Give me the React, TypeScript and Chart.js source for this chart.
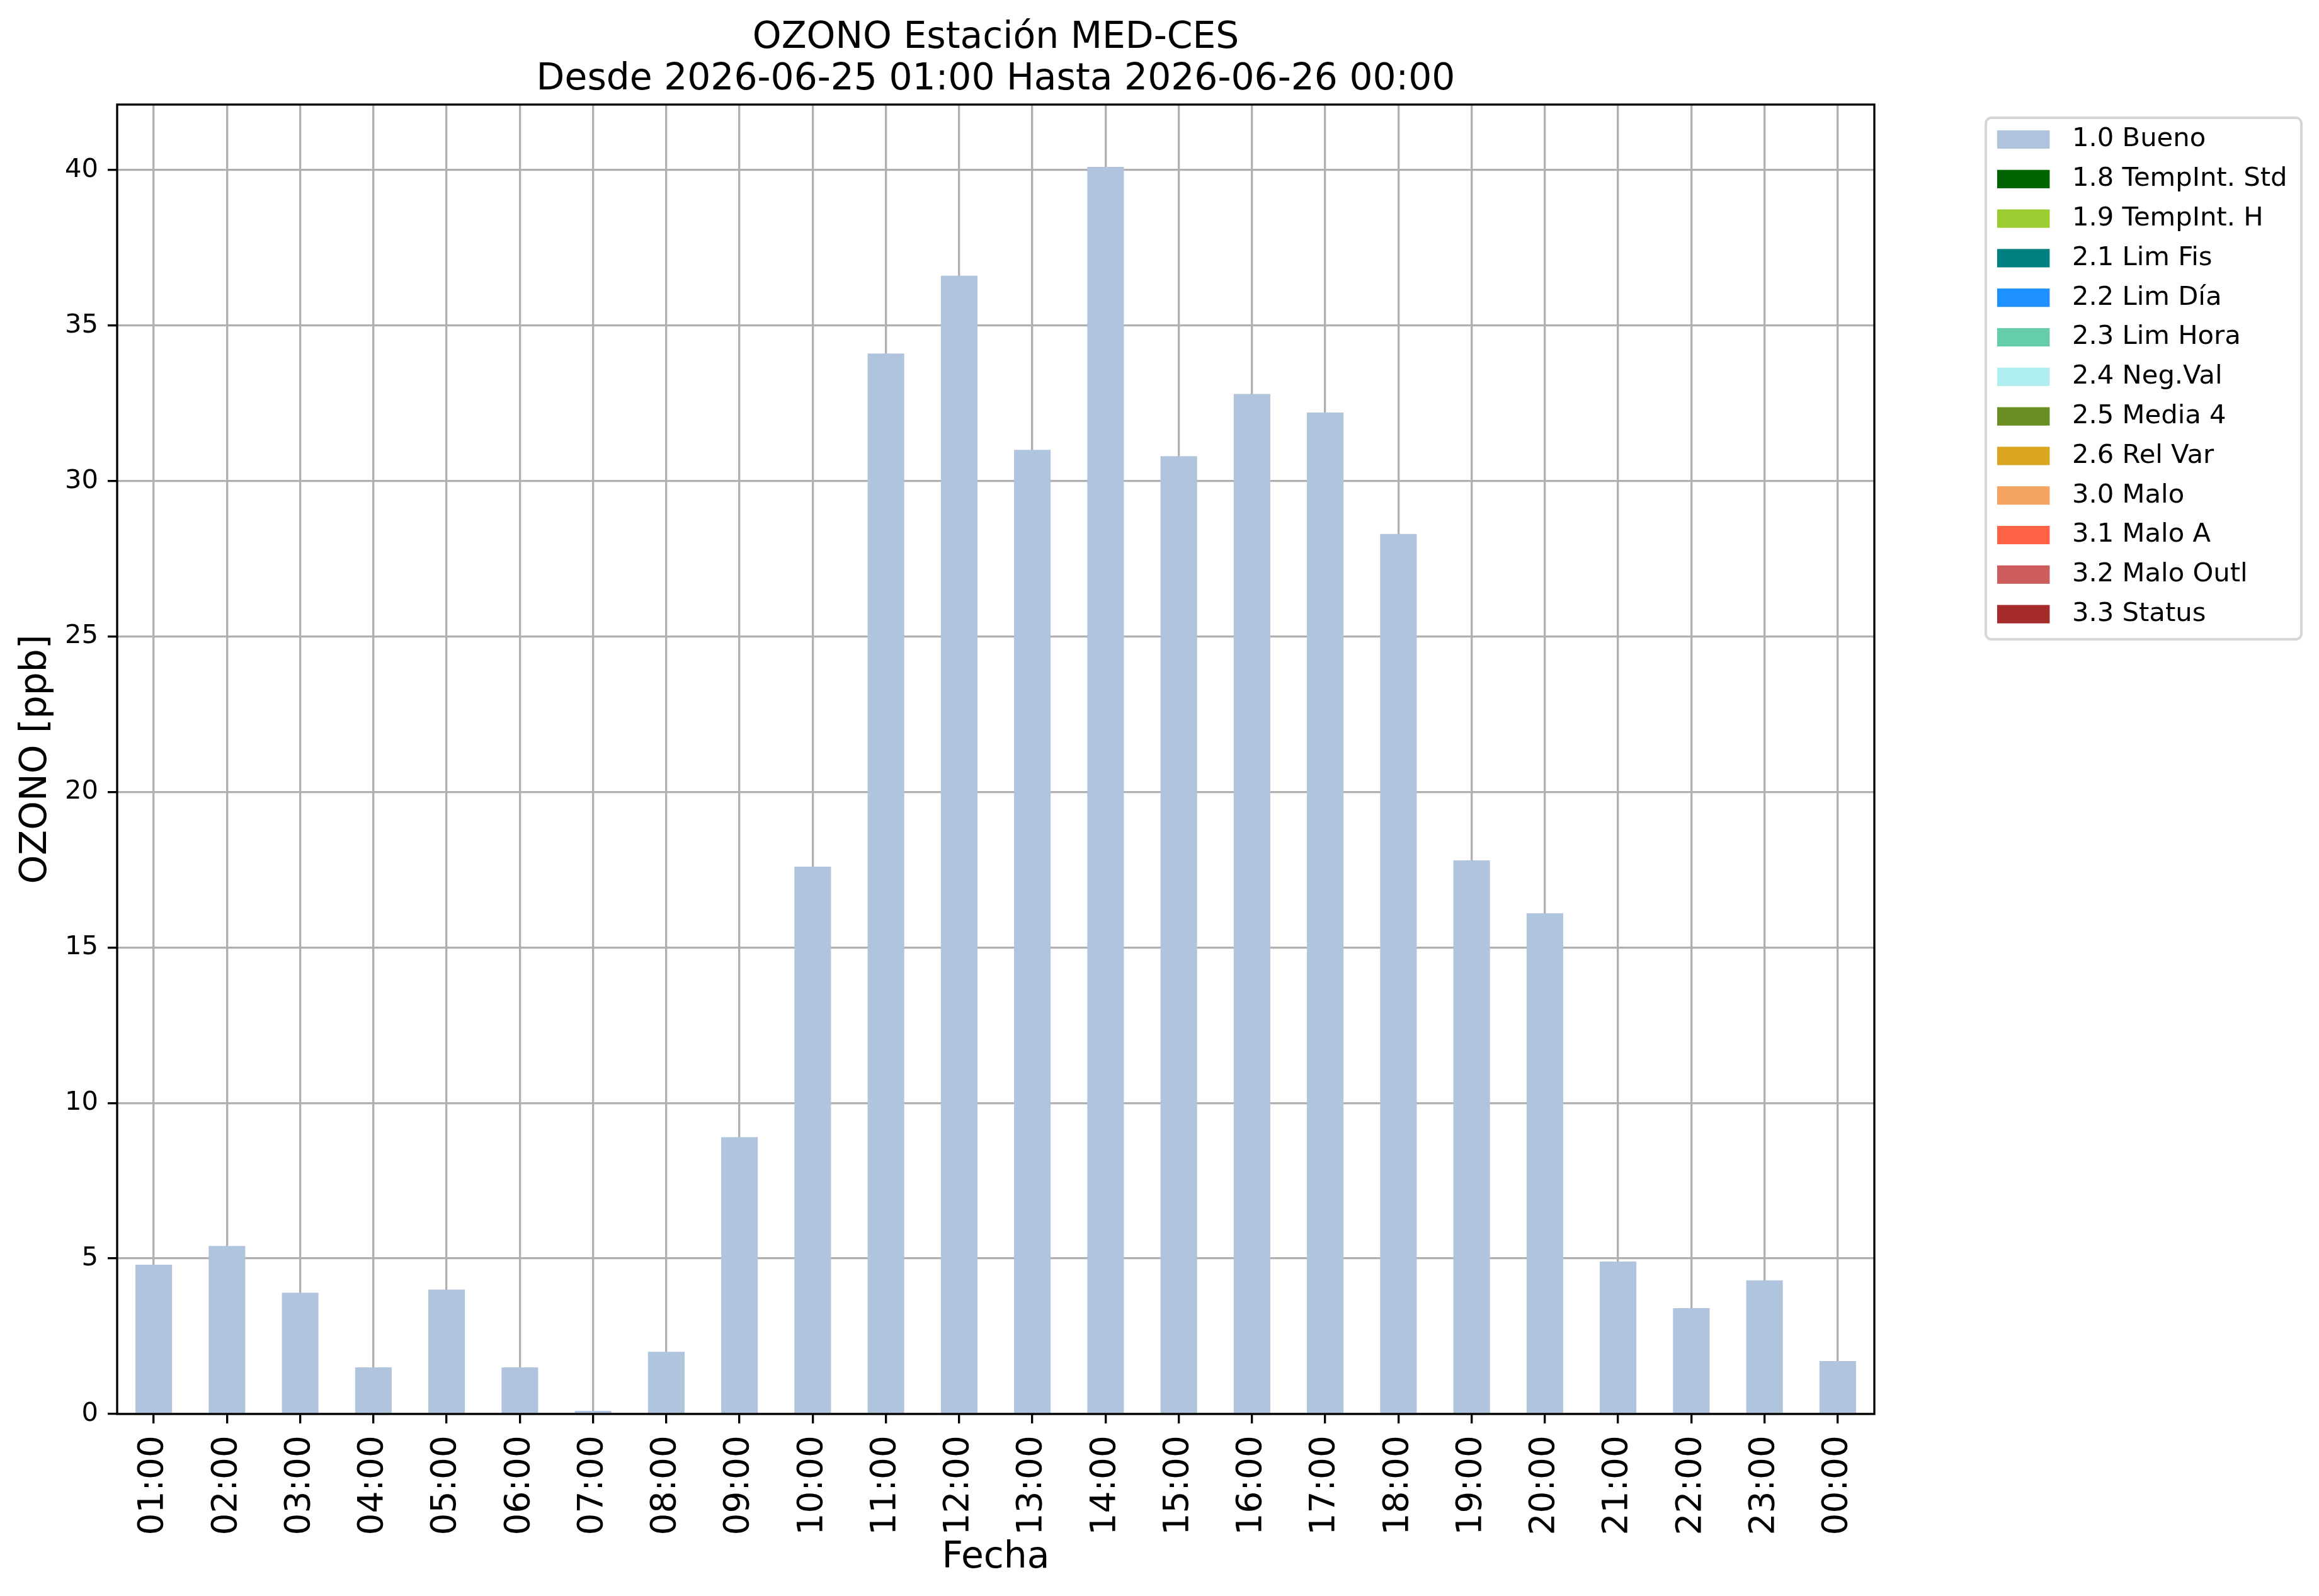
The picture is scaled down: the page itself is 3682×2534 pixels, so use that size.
import React, { useEffect, useRef } from 'react';
import Chart from 'chart.js/auto';

const horas = [
  '01:00', '02:00', '03:00', '04:00', '05:00', '06:00', '07:00', '08:00',
  '09:00', '10:00', '11:00', '12:00', '13:00', '14:00', '15:00', '16:00',
  '17:00', '18:00', '19:00', '20:00', '21:00', '22:00', '23:00', '00:00',
];

// valores validos (1.0 Bueno), ppb
const bueno = [
  4.8, 5.4, 3.9, 1.5, 4.0, 1.5, 0.1, 2.0, 8.9, 17.6, 34.1, 36.6,
  31.0, 40.1, 30.8, 32.8, 32.2, 28.3, 17.8, 16.1, 4.9, 3.4, 4.3, 1.7,
];

// el resto de banderas no tiene datos en este periodo
const sinDatos = [
  0, 0, 0, 0, 0, 0, 0, 0, 0, 0, 0, 0,
  0, 0, 0, 0, 0, 0, 0, 0, 0, 0, 0, 0,
];

const banderas = [
  '1.0 Bueno', '1.8 TempInt. Std', '1.9 TempInt. H', '2.1 Lim Fis',
  '2.2 Lim Día', '2.3 Lim Hora', '2.4 Neg.Val', '2.5 Media 4',
  '2.6 Rel Var', '3.0 Malo', '3.1 Malo A', '3.2 Malo Outl', '3.3 Status',
];

const colores = [
  '#b0c4de', '#006400', '#9acd32', '#008080', '#1e90ff', '#66cdaa', '#afeeee',
  '#6b8e23', '#daa520', '#f4a460', '#ff6347', '#cd5c5c', '#a52a2a',
];

const yTicks = [0, 5, 10, 15, 20, 25, 30, 35, 40];

const W = 3682;
const H = 2534;
const FONT = "'DejaVu Sans', 'Noto Sans', sans-serif";

const marco = {
  id: 'marco',
  afterDraw(chart: any) {
    const { ctx, chartArea } = chart;
    ctx.save();
    ctx.strokeStyle = '#000';
    ctx.lineWidth = 3.33;
    ctx.strokeRect(chartArea.left, chartArea.top, chartArea.right - chartArea.left, chartArea.bottom - chartArea.top);
    ctx.restore();
  },
};

const leyenda = {
  id: 'leyenda',
  afterDraw(chart: any) {
    const { ctx, chartArea } = chart;
    const x0 = chartArea.right + 177;
    const y0 = chartArea.top + 21;
    const w = 501;
    const h = 828;
    ctx.save();
    ctx.beginPath();
    ctx.roundRect(x0, y0, w, h, 9);
    ctx.fillStyle = 'rgba(255,255,255,0.8)';
    ctx.fill();
    ctx.strokeStyle = '#d6d6d6';
    ctx.lineWidth = 4;
    ctx.stroke();
    ctx.font = `41.7px ${FONT}`;
    ctx.textBaseline = 'middle';
    ctx.textAlign = 'left';
    chart.data.datasets.forEach((ds: any, i: number) => {
      const cy = y0 + 34.5 + i * 62.8;
      ctx.fillStyle = ds.backgroundColor;
      ctx.fillRect(x0 + 18, cy - 14.6, 83.4, 29.2);
      ctx.fillStyle = '#000';
      ctx.fillText(ds.label, x0 + 137, cy);
    });
    ctx.restore();
  },
};

const App = () => {
  const canvasRef = useRef<HTMLCanvasElement | null>(null);
  const chartRef = useRef<Chart | null>(null);

  useEffect(() => {
    if (!canvasRef.current) return;
    if (chartRef.current) chartRef.current.destroy();

    Chart.defaults.font.family = FONT;
    Chart.defaults.color = '#000';

    const grid = {
      offset: false,
      color: '#b0b0b0',
      lineWidth: 3.33,
      drawTicks: true,
      tickLength: 15,
      tickColor: '#000',
      tickWidth: 3.33,
    };

    chartRef.current = new Chart(canvasRef.current, {
      type: 'bar',
      data: {
        labels: horas,
        datasets: banderas.map((b, i) => ({
          label: b,
          data: i === 0 ? bueno : sinDatos,
          backgroundColor: colores[i],
          borderWidth: 0,
          barPercentage: 0.5,
          categoryPercentage: 1.0,
        })),
      },
      options: {
        responsive: false,
        animation: false,
        devicePixelRatio: 1,
        layout: { padding: { left: 0, right: 706, top: 0, bottom: 0 } },
        plugins: {
          legend: { display: false },
          tooltip: { enabled: false },
          title: {
            display: true,
            fullSize: false,
            text: ['OZONO Estación MED-CES', 'Desde 2026-06-25 01:00 Hasta 2026-06-26 00:00'],
            color: '#000',
            font: { size: 58.3, weight: 'normal', lineHeight: 1.127 },
            padding: { top: 28, bottom: 6.6 },
          },
        },
        scales: {
          x: {
            stacked: true,
            offset: true,
            z: 1,
            grid,
            border: { display: false },
            ticks: {
              autoSkip: false,
              maxRotation: 90,
              minRotation: 90,
              padding: 19,
              color: '#000',
              font: { size: 55 },
            },
            title: {
              display: true,
              text: 'Fecha',
              color: '#000',
              font: { size: 58.3, lineHeight: 1.2 },
              padding: { top: 0, bottom: 25 },
            },
            afterFit: (s: any) => {
              s.height = 289;
            },
          },
          y: {
            stacked: true,
            min: 0,
            max: 42.105,
            z: 1,
            grid,
            border: { display: false },
            afterBuildTicks: (s: any) => {
              s.ticks = yTicks.map((v) => ({ value: v }));
            },
            ticks: {
              padding: 15,
              color: '#000',
              font: { size: 41.7 },
            },
            title: {
              display: true,
              text: 'OZONO [ppb]',
              color: '#000',
              font: { size: 58.3, lineHeight: 1.2 },
              padding: { top: 23, bottom: 0 },
            },
            afterFit: (s: any) => {
              s.width = 186;
            },
          },
        },
      },
      plugins: [marco, leyenda],
    });

    return () => {
      if (chartRef.current) {
        chartRef.current.destroy();
        chartRef.current = null;
      }
    };
  }, []);

  return (
    <div style={{ position: 'absolute', left: 0, top: 0, width: `${W}px`, height: `${H}px`, background: '#fff' }}>
      <canvas ref={canvasRef} width={W} height={H} style={{ width: `${W}px`, height: `${H}px` }} />
    </div>
  );
};

export default App;
